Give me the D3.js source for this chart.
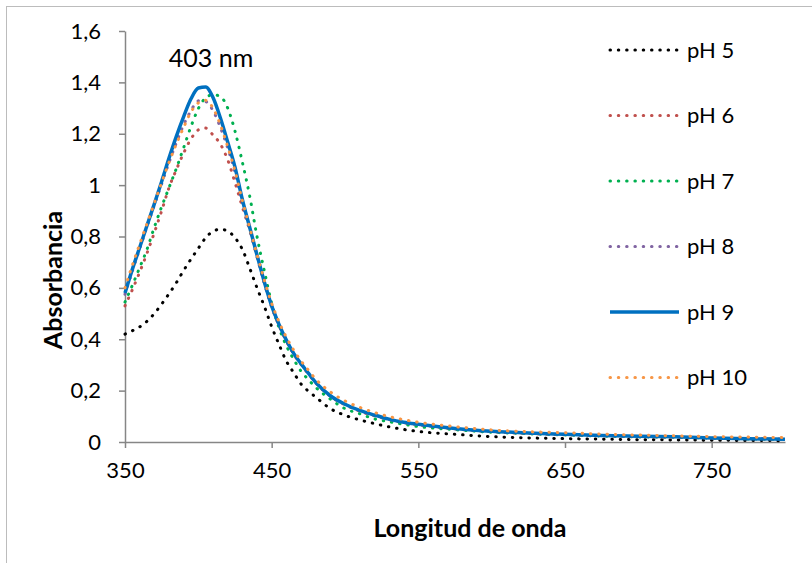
<!DOCTYPE html>
<html lang="es">
<head>
<meta charset="UTF-8">
<title>Absorbancia vs longitud de onda</title>
<script src="https://d3js.org/d3.v7.min.js"></script>
<style>
  body { margin: 0; background: #fff; }
  text { font-family: Lato, "Open Sans", sans-serif; fill: #000; }
</style>
</head>
<body>
<div id="chart"></div>
<script>
// wavelengths (nm)
var wavelength = [350,355,360,365,370,375,380,385,390,395,400,405,410,415,420,425,430,435,440,445,450,455,460,465,470,475,480,
                  490,500,510,520,530,540,550,575,600,625,650,675,700,725,750,775,800];

// absorbance per pH
var ph5  = [0.42,0.433,0.448,0.47,0.50,0.537,0.577,0.62,0.668,0.712,0.754,0.795,0.82,0.828,0.821,0.795,0.75,0.677,0.60,0.528,0.449,0.38,0.315,0.27,0.226,0.198,0.175,
            0.13,0.104,0.086,0.072,0.059,0.049,0.041,0.03,0.021,0.016,0.013,0.011,0.009,0.008,0.007,0.006,0.005];
var ph6  = [0.53,0.593,0.661,0.735,0.815,0.90,0.99,1.06,1.125,1.18,1.215,1.222,1.195,1.16,1.099,1.01,0.915,0.825,0.72,0.617,0.525,0.453,0.393,0.342,0.302,0.265,0.23,
            0.178,0.145,0.12,0.102,0.087,0.075,0.067,0.051,0.040,0.033,0.028,0.024,0.021,0.018,0.015,0.013,0.011];
var ph7  = [0.545,0.61,0.679,0.75,0.836,0.916,0.99,1.065,1.146,1.228,1.298,1.34,1.352,1.345,1.30,1.21,1.09,0.958,0.80,0.666,0.54,0.445,0.375,0.322,0.276,0.243,0.213,
            0.167,0.13,0.11,0.09,0.079,0.069,0.06,0.048,0.038,0.032,0.027,0.023,0.020,0.018,0.015,0.012,0.010];
var ph8  = [0.575,0.665,0.752,0.838,0.922,1.005,1.088,1.165,1.235,1.29,1.328,1.325,1.29,1.225,1.145,1.05,0.935,0.83,0.725,0.62,0.53,0.457,0.396,0.345,0.304,0.267,0.232,
            0.18,0.147,0.122,0.104,0.088,0.076,0.068,0.052,0.041,0.034,0.029,0.025,0.021,0.019,0.016,0.013,0.011];
var ph9  = [0.58,0.672,0.757,0.843,0.927,1.014,1.105,1.19,1.267,1.336,1.378,1.382,1.341,1.262,1.168,1.07,0.944,0.836,0.728,0.623,0.53,0.458,0.397,0.345,0.305,0.268,0.232,
            0.18,0.147,0.123,0.105,0.089,0.077,0.069,0.053,0.042,0.035,0.030,0.025,0.022,0.020,0.016,0.013,0.011];
var ph10 = [0.60,0.688,0.77,0.85,0.93,1.01,1.088,1.16,1.225,1.285,1.32,1.33,1.30,1.235,1.15,1.055,0.94,0.835,0.73,0.63,0.54,0.468,0.408,0.358,0.316,0.28,0.245,
            0.195,0.16,0.135,0.115,0.099,0.087,0.077,0.06,0.047,0.040,0.036,0.031,0.027,0.024,0.021,0.019,0.017];

var seriesNames = ["pH 5","pH 6","pH 7","pH 8","pH 9","pH 10"];
var seriesValues = [ph5, ph6, ph7, ph8, ph9, ph10];
var seriesColors = ["#000000","#C0504D","#00B050","#8064A2","#0070C0","#F79646"];

var xTicks = [350,450,550,650,750];
var yTicks = [0,0.2,0.4,0.6,0.8,1,1.2,1.4,1.6];

var W = 812, H = 563;
var svg = d3.select("#chart").append("svg")
    .attr("width", W)
    .attr("height", H);

// outer frame (cut off at right and bottom)
svg.append("rect")
    .attr("x", 6.5).attr("y", 6.5)
    .attr("width", W + 10).attr("height", H + 10)
    .attr("fill", "none")
    .attr("stroke", "#bcbcbc")
    .attr("stroke-width", 1);

var x = d3.scaleLinear().domain([350, 800]).range([125, 785]);
var y = d3.scaleLinear().domain([0, 1.6]).range([442, 31]);

var fmt = function(d) { return String(+d.toFixed(1)).replace(".", ","); };

// X axis
var gx = svg.append("g")
    .attr("transform", "translate(0," + y(0) + ")")
    .call(d3.axisBottom(x).tickValues(xTicks).tickSize(6).tickSizeOuter(0).tickPadding(10));
gx.selectAll("text").style("font-size", "22px").attr("dy", "0.9em");

// Y axis
var gy = svg.append("g")
    .attr("transform", "translate(" + x(350) + ",0)")
    .call(d3.axisLeft(y).tickValues(yTicks).tickFormat(fmt).tickSize(6).tickSizeOuter(0).tickPadding(18));
gy.selectAll("text").style("font-size", "22px");

svg.selectAll(".domain, .tick line")
    .attr("stroke", "#868686")
    .attr("stroke-width", 1.5);

// lines
var line = d3.line()
    .x(function(d, i) { return x(wavelength[i]); })
    .y(function(d) { return y(d); })
    .curve(d3.curveMonotoneX);

seriesValues.forEach(function(vals, k) {
  var p = svg.append("path")
      .attr("d", line(vals))
      .attr("fill", "none")
      .attr("stroke", seriesColors[k]);
  if (seriesNames[k] == "pH 9") {
    p.attr("stroke-width", 3.5);
  } else {
    p.attr("stroke-width", 3)
     .attr("stroke-linecap", "round")
     .attr("stroke-dasharray", "0.5 7.8");
  }
});

// legend
var legend = svg.append("g");
seriesNames.forEach(function(name, k) {
  var ly = 50 + k * 65.5;
  var l = legend.append("line")
      .attr("x1", 610).attr("x2", 679)
      .attr("y1", ly).attr("y2", ly)
      .attr("stroke", seriesColors[k]);
  if (name == "pH 9") {
    l.attr("stroke-width", 3.5);
  } else {
    l.attr("stroke-width", 3)
     .attr("stroke-linecap", "round")
     .attr("stroke-dasharray", "0.5 7.8");
  }
  legend.append("text")
      .attr("x", 687).attr("y", ly)
      .attr("dy", "0.35em")
      .style("font-size", "22px")
      .text(name);
});

// peak annotation
svg.append("text")
    .attr("x", 211).attr("y", 67)
    .attr("text-anchor", "middle")
    .style("font-size", "25px")
    .text("403 nm");

// axis titles
svg.append("text")
    .attr("x", 470).attr("y", 537)
    .attr("text-anchor", "middle")
    .style("font-size", "25px")
    .style("font-weight", "bold")
    .text("Longitud de onda");

svg.append("text")
    .attr("transform", "translate(62,280) rotate(-90)")
    .attr("text-anchor", "middle")
    .style("font-size", "25px")
    .style("font-weight", "bold")
    .text("Absorbancia");
</script>
</body>
</html>
